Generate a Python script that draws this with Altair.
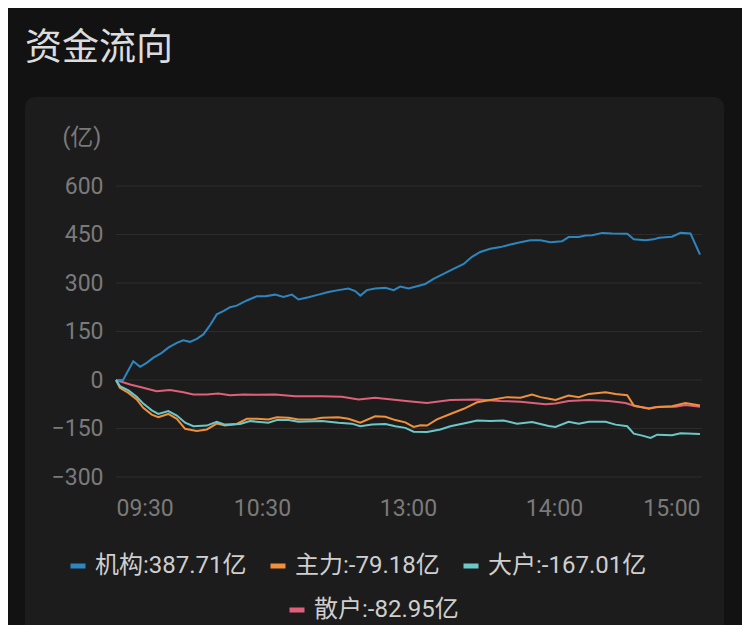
import altair as alt
import pandas as pd

title_text = "资金流向"
unit_text = "(亿)"
names = ["机构", "主力", "大户", "散户"]
finals = [387.71, -79.18, -167.01, -82.95]
colors = ["#2e86c1", "#f0903a", "#6cc8c8", "#e0607a"]

tick_vals = [0, 60, 120, 180, 240]
tick_labels = ["09:30", "10:30", "13:00", "14:00", "15:00"]
y_ticks = [-300, -150, 0, 150, 300, 450, 600]

# 机构
jg_min = [0, 2.9, 7.1, 9.9, 12.6, 15.4, 18.8, 21.5, 25, 27.6, 30.4, 33.2, 35.9, 38.7, 41.4,
          44.1, 46.9, 49.6, 53.8, 57.9, 61.3, 65.4, 68.8, 72.3, 75, 79.1, 83.2, 87.3, 91.4,
          95.5, 98.3, 100.4, 103.1, 106.5, 110.7, 114.1, 116.8, 120.2, 123.7, 127.1, 130.5,
          134.6, 138.7, 142.9, 146.3, 149.7, 153.8, 158, 162.1, 166.2, 170.3, 174.4, 178.5,
          183.3, 186, 190.2, 192.9, 195.7, 199.8, 203.9, 210.1, 212.8, 217.6, 221, 223.1,
          228.5, 232, 236.1, 240]
jg_val = [0, 0, 58, 41, 53, 69, 84, 100, 115, 123, 118, 127, 141, 170, 203,
          213, 225, 230, 246, 259, 259, 264, 257, 264, 249, 256, 264, 272, 278,
          283, 275, 261, 278, 283, 285, 278, 289, 283, 290, 297, 313,
          328, 344, 359, 381, 396, 406, 411, 419, 426, 432, 432, 426,
          429, 442, 442, 447, 448, 455, 453, 452, 435, 432, 435, 440,
          443, 455, 453, 387.71]

# 主力
zl_min = [0, 1.6, 5.1, 8.5, 11.2, 14.7, 17.4, 21.5, 25, 28.4, 33.2, 37.3, 41.4, 44.8, 49.6,
          53.8, 57.9, 62.6, 66.1, 70.9, 75, 80.5, 84.6, 91.4, 95.5, 100.4, 106.5, 110.7,
          114.8, 118.9, 122.3, 125.1, 127.8, 131.9, 137.4, 142.9, 148.4, 153.8, 160.7, 166.2,
          171, 174.4, 178, 180.6, 186, 190.2, 194.3, 201.2, 205.3, 210.1, 212.8, 219, 221.7,
          228.5, 234, 240]
zl_val = [0, -24, -40, -60, -86, -107, -115, -105, -120, -151, -158, -153, -135, -141, -136,
          -120, -120, -122, -115, -117, -122, -122, -117, -115, -120, -132, -112, -114,
          -124, -131, -145, -140, -141, -122, -105, -89, -69, -62, -53, -55,
          -45, -53, -58, -62, -48, -53, -43, -38, -43, -47, -79, -89, -84,
          -81, -71, -79.18]

# 大户
dh_min = [0, 1.6, 5.1, 8.5, 11.2, 14.7, 17.4, 21.5, 25, 28.4, 31.8, 37.3, 41.4, 44.8, 51,
          55.1, 57.9, 62.6, 66.1, 70.9, 75, 84.6, 91.4, 96.9, 100.4, 105.2, 110.7, 114.8,
          118.9, 122.3, 127.8, 133.3, 137.4, 144.3, 148.4, 153.8, 159.3, 164.8, 171, 177.8,
          180.6, 186, 190.2, 194.3, 201.2, 205.3, 210.1, 212.8, 216.3, 219.7, 222.4, 228.5,
          232, 240]
dh_val = [0, -19, -32, -52, -73, -94, -105, -96, -110, -132, -143, -141, -129, -138, -136,
          -127, -129, -132, -124, -124, -129, -127, -132, -135, -143, -138, -136, -143,
          -148, -160, -161, -153, -143, -132, -125, -127, -125, -135, -130, -142,
          -145, -129, -135, -129, -129, -138, -143, -166, -172, -179, -169, -171,
          -165, -167.01]

# 散户
sh_min = [0, 5.8, 11.2, 16.7, 22.2, 27.7, 31.8, 37.3, 42.1, 46.9, 52.4, 57.9, 65.4, 73.6,
          84.6, 92.8, 99.7, 106.5, 113.4, 118.2, 122.3, 127.8, 137.4, 148.4, 158, 166.2,
          176.5, 180.6, 186, 194.3, 202.5, 209.4, 213.5, 219, 223.1, 229.9, 234, 240]
sh_val = [0, -14, -24, -35, -31, -38, -45, -45, -42, -47, -45, -46, -45, -50,
          -50, -52, -60, -55, -60, -64, -67, -71, -62, -60, -65, -67,
          -75, -73, -65, -62, -65, -71, -81, -87, -83, -83, -77, -82.95]

labels = [f"{n}:{v:.2f}亿" for n, v in zip(names, finals)]

rows = []
for lab, mins, vals in zip(labels, [jg_min, zl_min, dh_min, sh_min],
                           [jg_val, zl_val, dh_val, sh_val]):
    for m, v in zip(mins, vals):
        rows.append({"series": lab, "minute": m, "value": v})
df = pd.DataFrame(rows)

label_expr = " : ".join(
    [f"datum.value == {v} ? '{t}'" for v, t in zip(tick_vals, tick_labels)]
) + " : ''"

FONT = "Roboto, 'Noto Sans CJK SC', sans-serif"
AXIS_GREY = "#7a7a7a"
PLOT_W = 584
PLOT_H = 291

x_scale = alt.Scale(domain=[0, 240], nice=False, zero=False)
y_scale = alt.Scale(domain=[-300, 600], nice=False, zero=False)

x_enc = alt.X(
    "minute:Q", scale=x_scale,
    axis=alt.Axis(values=tick_vals, labelExpr=label_expr, labelFlush=True, grid=False,
                  domain=False, ticks=False, labelPadding=20, labelFontSize=23,
                  labelColor=AXIS_GREY, labelFont=FONT, title=None, zindex=1),
)
y_enc = alt.Y(
    "value:Q", scale=y_scale,
    axis=alt.Axis(values=y_ticks, grid=False,
                  domain=False, ticks=False, labelPadding=13, labelFontSize=23,
                  labelColor=AXIS_GREY, labelFont=FONT, title=unit_text, titleAngle=0,
                  titleX=-54, titleY=-49, titleAlign="left", titleBaseline="middle",
                  titleColor=AXIS_GREY, titleFontSize=23, titleFontWeight="normal",
                  titleFont=FONT, zindex=1),
)

dummy = pd.DataFrame({"k": [0]})

card = alt.Chart(dummy).mark_rect(color="#1c1c1c", cornerRadius=10).encode(
    x=alt.value(-91), x2=alt.value(608), y=alt.value(-89), y2=alt.value(470)
)

title = alt.Chart(dummy).mark_text(
    text=title_text, align="left", baseline="alphabetic", fontSize=37,
    color="#dcdcdc", font=FONT
).encode(x=alt.value(-91), y=alt.value(-126))

grid = alt.Chart(pd.DataFrame({"tick": y_ticks})).mark_rule(
    color="#2c2c2c", strokeWidth=1
).encode(y=alt.Y("tick:Q", scale=y_scale), x=alt.value(0), x2=alt.value(PLOT_W + 2))

legend_common = dict(
    orient="none", direction="horizontal", title=None, labelFontSize=24,
    labelColor="#cfcfcf", labelFont=FONT, symbolType="stroke", symbolStrokeWidth=5,
    symbolSize=225, labelOffset=5, columnPadding=13, padding=0, labelLimit=300,
)

base = alt.Chart(df)

retail = base.transform_filter(alt.datum.series == labels[3]).mark_line(
    strokeWidth=2
).encode(
    x=x_enc, y=y_enc,
    stroke=alt.Stroke("series:N",
                      scale=alt.Scale(domain=[labels[3]], range=[colors[3]]),
                      legend=alt.Legend(legendX=169, legendY=412, **legend_common)),
)

others = base.transform_filter(alt.datum.series != labels[3]).mark_line(
    strokeWidth=2
).encode(
    x=x_enc, y=y_enc,
    color=alt.Color("series:N",
                    scale=alt.Scale(domain=labels[:3], range=colors[:3]),
                    sort=labels[:3],
                    legend=alt.Legend(legendX=-50, legendY=368, **legend_common)),
)

chart = alt.layer(card, title, grid, retail, others).properties(
    width=PLOT_W, height=PLOT_H,
    autosize=alt.AutoSizeParams(type="none"),
    padding={"left": 108, "top": 178, "right": 42, "bottom": 148},
    background="#121212",
).configure_view(stroke=None)

chart.save("out.html", embed_options={"renderer": "svg", "actions": False})
